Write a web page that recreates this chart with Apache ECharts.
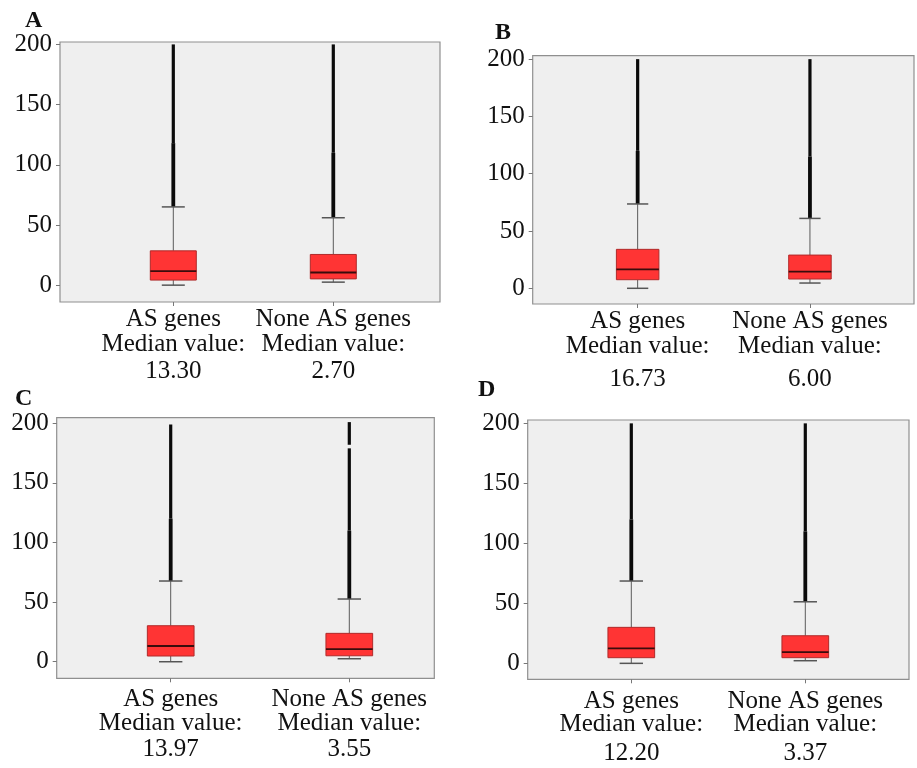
<!DOCTYPE html>
<html>
<head>
<meta charset="utf-8">
<script src="https://cdn.jsdelivr.net/npm/echarts@6/dist/echarts.min.js"></script>
<style>html,body{margin:0;padding:0;background:#fff;}#c{width:917px;height:768px;}</style>
</head>
<body>
<div id="c"></div>
<script>
// ---------- data ----------
const categories = ['AS genes', 'None AS genes'];
const yTicks = [0, 50, 100, 150, 200];
const panelLetters = ['A', 'B', 'C', 'D'];

// median value text under each category
const medianA = ['13.30', '2.70'];
const medianB = ['16.73', '6.00'];
const medianC = ['13.97', '3.55'];
const medianD = ['12.20', '3.37'];

// box stats: [category index, lower whisker, Q1, median, Q3, upper whisker]
const boxA = [[0, 0, 4.2, 11.6, 28.5, 65], [1, 2.5, 5.2, 10.5, 25.5, 56]];
const boxB = [[0, 0, 7.5, 16.6, 34, 73.6], [1, 4.6, 8.1, 14.5, 29, 61]];
const boxC = [[0, 0, 4.8, 13.2, 30.2, 67.7], [1, 2.5, 5, 10.6, 23.8, 52.6]];
const boxD = [[0, 0, 4.7, 12.5, 30, 68.6], [1, 2.2, 4.7, 9.4, 23, 51.3]];

// outliers (dense runs of points): [category index, from, to]
const outDenseA = [[0, 65, 118], [1, 56, 110]];
const outSparseA = [[0, 118, 200], [1, 110, 200]];
const outDenseB = [[0, 73.6, 120], [1, 61, 115]];
const outSparseB = [[0, 120, 200], [1, 115, 200]];
const outDenseC = [[0, 67.7, 120], [1, 52.6, 110]];
const outSparseC = [[0, 120, 199], [1, 110, 179], [1, 182, 201]];
const outDenseD = [[0, 68.6, 120], [1, 51.3, 110]];
const outSparseD = [[0, 120, 200], [1, 110, 200]];

// ---------- layout (pixels) ----------
const panels = [
  { bg: {left: 60, top: 42, width: 380, height: 260}, data: {left: 93.3, width: 320}, yMin: -14, yMax: 202,
    box: boxA, dense: outDenseA, sparse: outSparseA, med: medianA, boxW: 46, lh: 25, lh3: 29, lm: 5,
    letter: {x: 25, y: 21} },
  { bg: {left: 532.7, top: 55.7, width: 381.3, height: 248.3}, data: {left: 551.5, width: 344.6}, yMin: -13.7, yMax: 203,
    box: boxB, dense: outDenseB, sparse: outSparseB, med: medianB, boxW: 42.5, lh: 25, lh3: 41, lm: 5,
    letter: {x: 495, y: 33} },
  { bg: {left: 56.7, top: 417.7, width: 377.6, height: 260.6}, data: {left: 81.4, width: 357.2}, yMin: -13.9, yMax: 204.7,
    box: boxC, dense: outDenseC, sparse: outSparseC, med: medianC, boxW: 46.7, lh: 24, lh3: 29, lm: 9,
    letter: {x: 15, y: 399} },
  { bg: {left: 527.7, top: 420, width: 381.3, height: 259.3}, data: {left: 544.3, width: 348}, yMin: -13.3, yMax: 202.8,
    box: boxD, dense: outDenseD, sparse: outSparseD, med: medianD, boxW: 46.7, lh: 23, lh3: 34, lm: 11,
    letter: {x: 478, y: 390} }
];

const FONT = "'Liberation Serif', 'Times New Roman', serif";

const grid = [], xAxis = [], yAxis = [], series = [], graphic = [];

panels.forEach((p, i) => {
  grid.push({ left: p.bg.left, top: p.bg.top, width: p.bg.width, height: p.bg.height,
    show: true, backgroundColor: '#efefef', borderColor: '#8f8f8f', borderWidth: 1.2 });
  grid.push({ left: p.data.left, top: p.bg.top, width: p.data.width, height: p.bg.height, show: false });
  const gBg = i * 2, gData = i * 2 + 1;

  xAxis.push({ gridIndex: gBg, type: 'value', show: false, min: 0, max: 1 });
  xAxis.push({ gridIndex: gData, type: 'category', data: categories, boundaryGap: true, position: 'bottom',
    axisLine: { show: false, onZero: false },
    axisTick: { show: true, alignWithLabel: true, length: 4, lineStyle: { color: '#777', width: 1 } },
    axisLabel: { interval: 0, margin: p.lm, color: '#111',
      formatter: (v, idx) => `{a|${v}}\n{a|Median value:}\n{b|${p.med[idx]}}`,
      rich: { a: { fontFamily: FONT, fontSize: 25, lineHeight: p.lh, color: '#111' },
              b: { fontFamily: FONT, fontSize: 25, lineHeight: p.lh3, color: '#111' } } },
    splitLine: { show: false } });

  yAxis.push({ gridIndex: gBg, type: 'value', min: p.yMin, max: p.yMax,
    axisLine: { show: false, onZero: false },
    axisTick: { show: true, length: 4, customValues: yTicks, lineStyle: { color: '#777' } },
    axisLabel: { customValues: yTicks, fontFamily: FONT, fontSize: 25, color: '#111', margin: 8 },
    splitLine: { show: false } });
  yAxis.push({ gridIndex: gData, type: 'value', min: p.yMin, max: p.yMax, show: false, splitLine: { show: false } });

  const xi = gData, yi = gData;

  const lineRender = (lw) => (params, api) => {
    const c = api.value(0);
    const a = api.coord([c, api.value(1)]);
    const b = api.coord([c, api.value(2)]);
    return { type: 'line', shape: { x1: a[0], y1: a[1], x2: b[0], y2: b[1] },
      style: { stroke: '#0a0a0a', lineWidth: lw, lineCap: 'butt' } };
  };

  series.push({ type: 'custom', xAxisIndex: xi, yAxisIndex: yi, data: p.dense, z: 3,
    renderItem: lineRender(3.8) });
  series.push({ type: 'custom', xAxisIndex: xi, yAxisIndex: yi, data: p.sparse, z: 3,
    renderItem: lineRender(3.2) });

  series.push({ type: 'custom', xAxisIndex: xi, yAxisIndex: yi, data: p.box, z: 4,
    renderItem: (params, api) => {
      const c = api.value(0);
      const pt = (v) => api.coord([c, v]);
      const lo = pt(api.value(1)), q1 = pt(api.value(2)), md = pt(api.value(3)),
            q3 = pt(api.value(4)), hi = pt(api.value(5));
      const cx = lo[0], hw = p.boxW / 2, cw = p.boxW / 4;
      const wStyle = { stroke: '#5a5a5a', lineWidth: 1 };
      return { type: 'group', children: [
        { type: 'line', shape: { x1: cx, y1: hi[1], x2: cx, y2: q3[1] }, style: wStyle },
        { type: 'line', shape: { x1: cx, y1: q1[1], x2: cx, y2: lo[1] }, style: wStyle },
        { type: 'line', shape: { x1: cx - cw, y1: hi[1], x2: cx + cw, y2: hi[1] }, style: { stroke: '#555', lineWidth: 1.5 } },
        { type: 'line', shape: { x1: cx - cw, y1: lo[1], x2: cx + cw, y2: lo[1] }, style: { stroke: '#555', lineWidth: 1.5 } },
        { type: 'rect', shape: { x: cx - hw, y: q3[1], width: p.boxW, height: q1[1] - q3[1] },
          style: { fill: '#ff3434', stroke: '#b02a2a', lineWidth: 1 } },
        { type: 'line', shape: { x1: cx - hw, y1: md[1], x2: cx + hw, y2: md[1] }, style: { stroke: '#3a0c0c', lineWidth: 1.8 } }
      ] };
    } });

  graphic.push({ type: 'text', left: p.letter.x, top: p.letter.y - 12,
    style: { text: panelLetters[i], fontFamily: FONT, fontWeight: 'bold', fontSize: 24, fill: '#111' } });
});

const chart = echarts.init(document.getElementById('c'), null, { renderer: 'canvas' });
chart.setOption({ animation: false, backgroundColor: '#fff', grid, xAxis, yAxis, series, graphic });
</script>
</body>
</html>
